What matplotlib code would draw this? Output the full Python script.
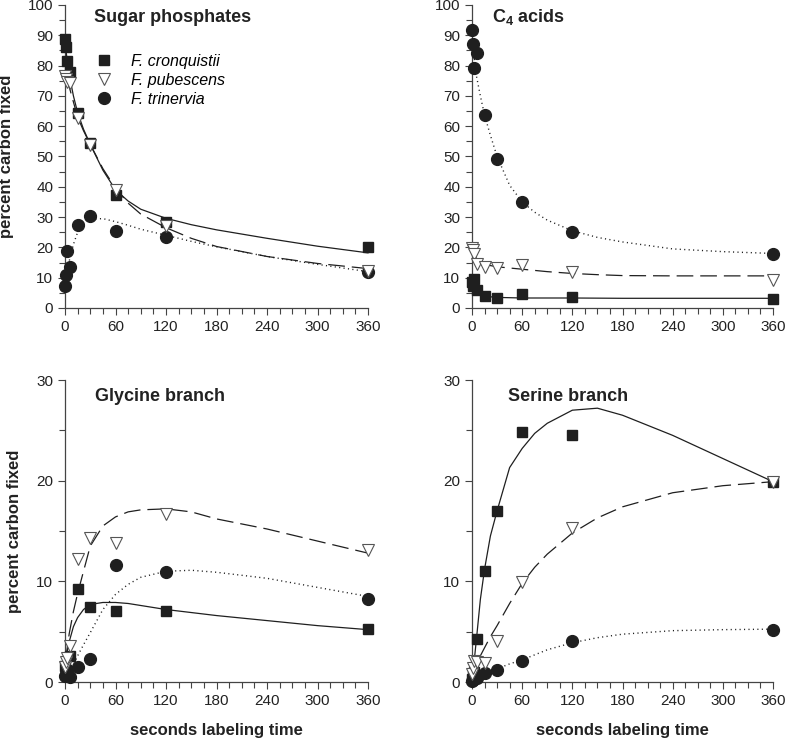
import matplotlib
matplotlib.use("Agg")
import matplotlib.pyplot as plt
from matplotlib.lines import Line2D
from matplotlib.ticker import MultipleLocator

plt.rcParams["font.family"] = "Liberation Sans"
plt.rcParams["mathtext.fontset"] = "custom"
plt.rcParams["mathtext.bf"] = "Liberation Sans:bold"
plt.rcParams["mathtext.rm"] = "Liberation Sans"
plt.rcParams["lines.scale_dashes"] = False

# labeling times (s)
times = [0.5, 1, 2.5, 5.5, 15, 30, 60, 120, 360]

# measured points, percent carbon fixed
sugar_cron = [88.7, 86.2, 81.6, 78.0, 64.4, 54.3, 37.3, 28.5, 20.2]
sugar_pub = [76.5, 75.5, 74.7, 74.3, 62.6, 53.8, 39.0, 27.0, 12.3]
sugar_tri = [7.3, 11.0, 18.9, 13.4, 27.4, 30.5, 25.3, 23.4, 11.9]

c4_cron = [8.5, 7.2, 9.5, 6.0, 4.0, 3.4, 4.7, 3.6, 3.0]
c4_pub = [19.8, 19.2, 17.8, 14.6, 13.4, 13.1, 14.2, 12.0, 9.4]
c4_tri = [91.6, 87.2, 79.2, 84.2, 63.7, 49.3, 35.0, 25.2, 17.8]

gly_cron = [1.6, 1.2, 1.0, 2.6, 9.2, 7.5, 7.1, 7.1, 5.3]
gly_pub = [1.5, 2.0, 2.4, 3.6, 12.2, 14.3, 13.8, 16.7, 13.1]
gly_tri = [0.6, 0.8, 1.0, 0.45, 1.45, 2.25, 11.6, 10.9, 8.2]

ser_cron = [0.3, 0.6, 1.0, 4.25, 11.0, 17.0, 24.8, 24.5, 19.9]
ser_pub = [0.8, 1.4, 2.1, 2.0, 1.9, 4.1, 9.9, 15.3, 19.9]
ser_tri = [0.1, 0.2, 0.3, 0.35, 0.85, 1.2, 2.1, 4.1, 5.2]

# fitted curves
fit_t = [0.5, 2, 5, 10, 15, 22, 30, 45, 60, 75, 90, 120, 150, 180, 240, 300, 360]

sugar_fit_cron = [87, 83, 77, 70, 64.5, 59, 54, 45.5, 39, 35.3, 32.6, 29.6, 27.5, 25.8, 23, 20.4, 18.2]
sugar_fit_pub = [76, 75, 73, 68, 63, 58.5, 54, 46, 39.5, 34.6, 31, 26.5, 23, 20.3, 17, 14.7, 13]
sugar_fit_tri = [7, 12, 15.5, 21, 25, 28, 29.3, 29.5, 28.5, 27.3, 26, 24, 22, 20.2, 17, 14.4, 12]

c4_fit_cron = [8, 6.8, 5.5, 4.5, 4, 3.7, 3.5, 3.4, 3.3, 3.3, 3.3, 3.3, 3.25, 3.2, 3.2, 3.2, 3.2]
c4_fit_pub = [19.3, 18, 16.5, 15.2, 14.5, 14, 13.6, 13.2, 12.8, 12.4, 12, 11.4, 11, 10.7, 10.6, 10.6, 10.6]
c4_fit_tri = [88, 84, 77, 70, 63.7, 57, 50, 40.5, 35, 31.6, 29, 25.5, 23.3, 21.8, 19.5, 18.6, 18]

gly_fit_cron = [2, 2.8, 4, 5.5, 6.4, 7.2, 7.7, 7.9, 7.9, 7.8, 7.6, 7.2, 6.9, 6.6, 6.1, 5.6, 5.2]
gly_fit_pub = [2.2, 3, 4.8, 7, 8.8, 11, 13.5, 15.5, 16.4, 16.9, 17.1, 17.2, 16.9, 16.2, 15.2, 14, 12.8]
gly_fit_tri = [0.3, 0.5, 0.8, 1.7, 2.6, 3.7, 4.9, 7.2, 8.7, 9.7, 10.4, 11, 11.1, 10.9, 10.3, 9.4, 8.5]

ser_fit_cron = [0.3, 1.6, 4, 8.2, 11.2, 14.5, 17, 21.3, 23.2, 24.7, 25.7, 27, 27.2, 26.5, 24.5, 22.2, 19.9]
ser_fit_pub = [0.3, 0.8, 1.5, 2.6, 3.4, 4.5, 5.6, 7.8, 9.8, 11.4, 12.7, 14.8, 16.3, 17.4, 18.8, 19.5, 19.9]
ser_fit_tri = [0.1, 0.2, 0.4, 0.6, 0.85, 1.05, 1.3, 1.8, 2.2, 2.7, 3.2, 3.9, 4.4, 4.75, 5.1, 5.2, 5.25]

species = ["F. cronquistii", "F. pubescens", "F. trinervia"]

DARK = "#1f1f1f"
EDGE = "#555555"
sq = dict(marker="s", ms=7.5, mfc=DARK, mec=DARK, ls="none", zorder=4)
tri = dict(marker="v", ms=8.5, mfc="white", mec=EDGE, mew=0.8, ls="none", zorder=5)
cir = dict(marker="o", ms=8.5, mfc=DARK, mec=DARK, ls="none", zorder=3)

fig = plt.figure(figsize=(7.86, 7.41), dpi=100)
W, H = 786, 741


def make_ax(x0, x1, ytop, ybot):
    return fig.add_axes([x0 / W, 1 - ybot / H, (x1 - x0) / W, (ybot - ytop) / H])


panels = [
    (make_ax(65, 368, 5, 308), "Sugar phosphates", 100, (0.096, 0.96),
     (sugar_cron, sugar_pub, sugar_tri), (sugar_fit_cron, sugar_fit_pub, sugar_fit_tri)),
    (make_ax(472, 773, 5, 308), r"$\mathbf{C_4}$ acids", 100, (0.068, 0.96),
     (c4_cron, c4_pub, c4_tri), (c4_fit_cron, c4_fit_pub, c4_fit_tri)),
    (make_ax(65, 368, 380, 682), "Glycine branch", 30, (0.1, 0.945),
     (gly_cron, gly_pub, gly_tri), (gly_fit_cron, gly_fit_pub, gly_fit_tri)),
    (make_ax(472, 773, 380, 682), "Serine branch", 30, (0.12, 0.945),
     (ser_cron, ser_pub, ser_tri), (ser_fit_cron, ser_fit_pub, ser_fit_tri)),
]

for i, (ax, title, ymax, tpos, pts, fits) in enumerate(panels):
    ax.plot(fit_t, fits[0], color=DARK, lw=0.9, zorder=2)
    ax.plot(fit_t, fits[1], color=DARK, lw=0.9, dashes=(12, 5), zorder=2)
    ax.plot(fit_t, fits[2], color=DARK, lw=1.0, dashes=(0.8, 2.4), zorder=2)
    ax.plot(times, pts[2], **cir)
    ax.plot(times, pts[0], **sq)
    ax.plot(times, pts[1], **tri)

    ax.set_xlim(0, 360)
    ax.set_ylim(0, ymax)
    ax.set_xticks(range(0, 361, 60))
    ax.xaxis.set_minor_locator(MultipleLocator(15))
    ax.yaxis.set_major_locator(MultipleLocator(10))
    ax.yaxis.set_minor_locator(MultipleLocator(5))
    for s in ("top", "right"):
        ax.spines[s].set_visible(False)
    for s in ("left", "bottom"):
        ax.spines[s].set_color("#444444")
        ax.spines[s].set_linewidth(0.9)
    ax.tick_params(which="both", direction="out", colors="#444444", width=0.8,
                   labelsize=11, labelcolor="#222222")
    ax.tick_params(which="major", length=5)
    ax.tick_params(which="minor", length=4)
    for ln in ax.lines:
        ln.set_clip_on(False)
    ax.text(tpos[0], tpos[1], title, transform=ax.transAxes,
            fontsize=13, fontweight="bold", ha="left", va="center", color="#222222")
    if i % 2 == 0:
        ax.set_ylabel("percent carbon fixed", fontsize=12, fontweight="bold",
                      color="#222222", labelpad=10)
    if i >= 2:
        bb = ax.get_position()
        fig.text((bb.x0 + bb.x1) / 2, 1 - 731 / H, "seconds labeling time",
                 fontsize=12, fontweight="bold", color="#222222",
                 ha="center", va="center")

handles = [Line2D([], [], **sq), Line2D([], [], **tri), Line2D([], [], **cir)]
panels[0][0].legend(handles, species, loc="upper left", bbox_to_anchor=(0.08, 0.86),
                    frameon=False, handlelength=1.0, handletextpad=1.2,
                    labelspacing=0.25, borderaxespad=0,
                    prop={"style": "italic", "size": 11.5})

fig.savefig("out.png", dpi=100, facecolor="white")
